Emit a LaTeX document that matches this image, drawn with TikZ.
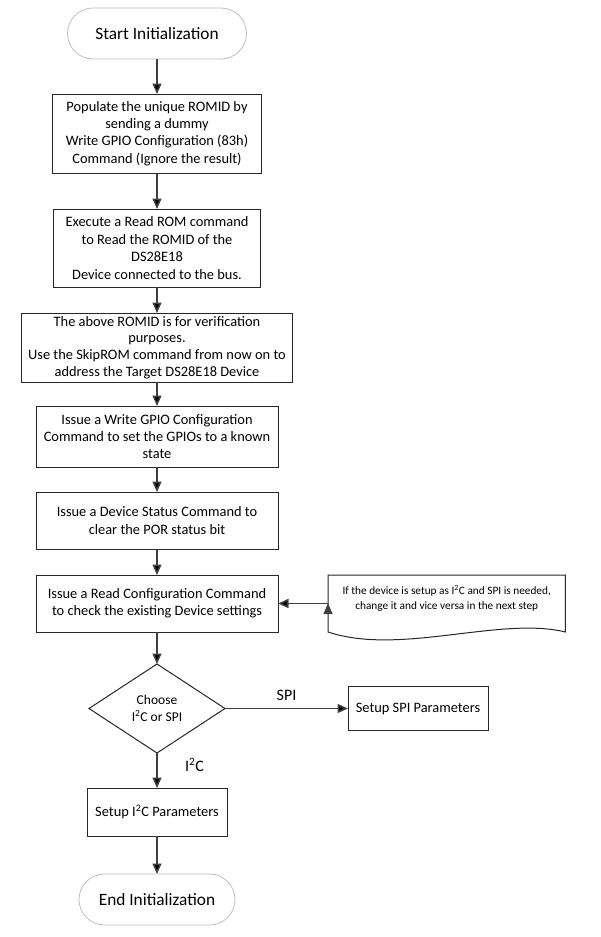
\documentclass[tikz,border=0pt]{standalone}
\usepackage{fontspec}
\setmainfont{Carlito}
\usetikzlibrary{shapes.geometric,arrows.meta,positioning,calc}
\tikzstyle{block}=[draw=black!85, line width=1pt, outer sep=0pt, inner sep=1pt, align=center, font=\fontsize{14.4}{17.4}\selectfont]
\tikzstyle{term}=[draw=black!25, line width=0.8pt, outer sep=0pt, rounded corners=25.5pt, minimum height=51pt, font=\fontsize{17.3}{20}\selectfont]
\tikzstyle{decision}=[diamond, draw=black!85, line width=1pt, outer sep=0pt, inner sep=0pt, aspect=1.5, align=center, font=\fontsize{13.5}{16.7}\selectfont]
\tikzstyle{arrow}=[draw=black!75, line width=1.5pt, -{Triangle[length=10.5pt,width=9pt]}]

\begin{document}
\begin{tikzpicture}[x=1pt,y=-1pt]
    \useasboundingbox (0,0) rectangle (600,937);
    \node [term, minimum width=179pt] (start) at (157,33.5) {Start Initialization};
    \node [block, minimum width=209pt, minimum height=79pt, below=35pt of start] (dummy)
        {Populate the unique ROMID by\\ sending a dummy\\ Write GPIO Configuration (83h)\\ Command (Ignore the result)};
    \node [block, minimum width=207pt, minimum height=78pt, below=36pt of dummy] (readrom)
        {Execute a Read ROM command\\ to Read the ROMID of the\\ DS28E18\\ Device connected to the bus.};
    \node [block, minimum width=271pt, minimum height=69pt, below=26pt of readrom,
           font=\fontsize{14.4}{16.7}\selectfont] (skiprom)
        {The above ROMID is for verification\\ purposes.\\ Use the SkipROM command from now on to\\ address the Target DS28E18 Device};
    \node [block, minimum width=242pt, minimum height=61pt, below=24pt of skiprom] (gpio)
        {Issue a Write GPIO Configuration\\ Command to set the GPIOs to a known\\ state};
    \node [block, minimum width=242pt, minimum height=57pt, below=25pt of gpio] (status)
        {Issue a Device Status Command to\\ clear the POR status bit};
    \node [block, minimum width=242pt, minimum height=57pt, below=26pt of status] (readcfg)
        {Issue a Read Configuration Command\\ to check the existing Device settings};
    \node [decision, minimum width=136pt, minimum height=89pt, below=32pt of readcfg] (choose)
        {Choose\\ I\textsuperscript{2}C or SPI};
    \node [block, minimum width=140pt, minimum height=44pt, right=123pt of choose] (spi) {Setup SPI Parameters};
    \node [block, minimum width=140pt, minimum height=48pt, below=35pt of choose] (i2c) {Setup I\textsuperscript{2}C Parameters};
    \node [term, minimum width=156pt, below=38pt of i2c] (end) {End Initialization};

    % note with wavy bottom
    \node [minimum width=237pt, inner sep=0pt, align=center, font=\fontsize{11.3}{14.5}\selectfont,
           right=50pt of readcfg, yshift=5pt] (note)
        {If the device is setup as I\textsuperscript{2}C and SPI is needed,\\ change it and vice versa in the next step};
    \draw [draw=black!85, line width=1pt]
        (note.west |- readcfg.north) -- (note.east |- readcfg.north) -- (note.east |- readcfg.south)
        .. controls ($(note.east |- readcfg.south)+(-65,-16)$) and ($(note.west |- readcfg.south)+(72,24)$)
        .. (note.west |- readcfg.south) -- cycle;

    \path[arrow]
        (start) edge (dummy)
        (dummy) edge (readrom)
        (readrom) edge (skiprom)
        (skiprom) edge (gpio)
        (gpio) edge (status)
        (status) edge (readcfg)
        (readcfg) edge (choose)
        (note.west |- readcfg) edge (readcfg)
        (choose) edge node[above=4pt, font=\fontsize{16}{18}\selectfont] {SPI} (spi)
        (choose) edge node[pos=0.33, right=24pt, font=\fontsize{16}{18}\selectfont] {I\textsuperscript{2}C} (i2c)
        (i2c) edge (end);
\end{tikzpicture}
\end{document}
